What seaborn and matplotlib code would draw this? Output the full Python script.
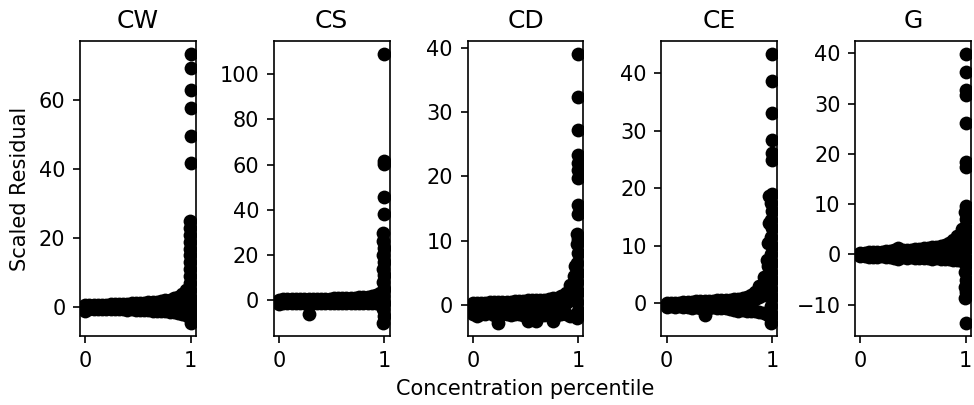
import matplotlib
matplotlib.use("Agg")
import matplotlib.pyplot as plt
import seaborn as sns
import pandas as pd

# ==========================================
# DATA
# ==========================================
panels = ["CW", "CS", "CD", "CE", "G"]

# concentration percentile positions of the main residual band
pct = [0.00, 0.04, 0.08, 0.12, 0.16, 0.20, 0.24, 0.28, 0.32, 0.36, 0.40, 0.44, 0.48,
       0.52, 0.56, 0.60, 0.64, 0.68, 0.72, 0.76, 0.80, 0.84, 0.88, 0.92, 0.96]

# upper / middle / lower edge of the band per panel
cw_hi = [0.5, 0.5, 0.6, 0.6, 0.7, 0.7, 0.8, 0.8, 0.9, 0.9, 1.0, 1.1, 1.2,
         1.3, 1.3, 1.4, 1.5, 1.6, 1.8, 2.0, 2.2, 2.6, 3.0, 3.8, 5.0]
cw_mid = [0.0, 0.1, 0.1, 0.1, 0.2, 0.2, 0.2, 0.3, 0.3, 0.3, 0.3, 0.4, 0.4,
          0.4, 0.4, 0.5, 0.5, 0.5, 0.6, 0.6, 0.6, 0.7, 0.8, 1.0, 1.2]
cw_lo = [-1.1, -0.4, -0.5, -0.4, -0.4, -0.5, -0.5, -0.6, -0.5, -0.6, -0.7, -0.6, -0.7,
         -0.8, -0.7, -0.9, -1.0, -1.1, -1.0, -1.2, -1.4, -1.5, -1.6, -1.9, -2.4]
cw_tail_x = [1.0, 0.99, 1.0, 0.99, 1.0, 0.99, 0.99, 0.99, 0.99, 0.99, 0.99, 0.99,
             0.99, 0.99, 0.99, 0.99, 0.99, 1.0, 1.0, 1.0, 1.0, 1.0, 1.0]
cw_tail_y = [-4.5, -3.0, -1.5, 0.0, 1.5, 3.0, 5.0, 7.0, 9.0, 11.0, 13.0, 15.0,
             17.0, 19.0, 21.0, 23.0, 25.0, 41.7, 49.7, 57.8, 62.9, 69.4, 73.3]

cs_hi = [0.3, 0.4, 0.4, 0.5, 0.5, 0.5, 0.6, 0.6, 0.6, 0.7, 0.7, 0.8, 0.8,
         0.9, 0.9, 1.0, 1.0, 1.1, 1.2, 1.3, 1.4, 1.6, 1.9, 2.4, 3.2]
cs_mid = [-0.5, -0.4, -0.4, -0.3, -0.3, -0.3, -0.2, -0.2, -0.2, -0.2, -0.1, -0.1, -0.1,
          0.0, 0.0, 0.0, 0.1, 0.1, 0.1, 0.2, 0.2, 0.3, 0.4, 0.6, 0.8]
cs_lo = [-1.8, -1.1, -1.3, -1.0, -1.2, -1.4, -1.2, -6.2, -1.3, -1.1, -1.2, -1.0, -1.1,
         -1.2, -1.0, -1.1, -1.2, -1.0, -1.1, -1.3, -1.2, -1.1, -1.3, -1.4, -1.6]
cs_tail_x = [0.99, 1.0, 0.99, 1.0, 0.99, 1.0, 0.99, 1.0, 0.99, 1.0, 0.99, 1.0,
             0.99, 0.99, 1.0, 1.0, 1.0, 1.0, 1.0]
cs_tail_y = [-9.9, -7.0, -4.0, -1.0, 2.0, 5.0, 8.0, 11.0, 14.0, 17.0, 20.0, 23.0,
             26.0, 29.8, 38.2, 45.7, 60.2, 61.5, 108.7]

cd_hi = [0.2, 0.3, 0.3, 0.3, 0.4, 0.4, 0.4, 0.5, 0.5, 0.5, 0.6, 0.6, 0.6,
         0.7, 0.7, 0.7, 0.8, 0.8, 0.9, 1.0, 1.1, 1.4, 1.9, 3.0, 4.5]
cd_mid = [-0.7, -0.6, -0.6, -0.6, -0.5, -0.5, -0.5, -0.5, -0.4, -0.4, -0.4, -0.4, -0.3,
          -0.3, -0.3, -0.3, -0.2, -0.2, -0.2, -0.1, 0.0, 0.1, 0.3, 0.7, 1.5]
cd_lo = [-1.5, -1.7, -1.4, -1.5, -1.3, -1.6, -2.8, -1.5, -1.4, -1.6, -1.5, -1.4, -1.6,
         -2.6, -1.7, -2.6, -1.5, -1.6, -1.4, -2.6, -1.6, -1.5, -1.4, -1.7, -1.8]
cd_tail_x = [0.95, 0.97, 0.99, 1.0, 0.99, 1.0, 0.99, 1.0, 0.99, 1.0, 0.99, 1.0, 0.99,
             1.0, 1.0, 1.0, 1.0, 1.0, 1.0, 1.0, 1.0, 1.0]
cd_tail_y = [3.0, 6.0, -2.1, -1.0, 0.5, 2.0, 3.5, 5.0, 6.5, 8.0, 9.5, 10.3, 11.0,
             14.2, 15.5, 19.7, 21.0, 22.0, 23.3, 27.2, 32.4, 39.0]

ce_hi = [0.0, 0.1, 0.1, 0.1, 0.2, 0.2, 0.2, 0.3, 0.3, 0.3, 0.4, 0.4, 0.5,
         0.5, 0.6, 0.6, 0.7, 0.8, 0.9, 1.1, 1.4, 2.0, 3.0, 4.5, 6.5]
ce_mid = [-0.3, -0.3, -0.2, -0.2, -0.2, -0.2, -0.1, -0.1, -0.1, -0.1, 0.0, 0.0, 0.0,
          0.1, 0.1, 0.1, 0.2, 0.2, 0.3, 0.4, 0.5, 0.7, 1.0, 1.5, 2.5]
ce_lo = [-0.6, -0.5, -0.6, -0.5, -0.7, -0.6, -0.8, -0.7, -0.9, -2.0, -0.8, -0.7, -0.8,
         -0.9, -0.8, -1.0, -1.1, -1.4, -1.2, -1.4, -1.3, -1.4, -1.5, -1.7, -2.0]
ce_tail_x = [0.95, 0.965, 0.97, 0.975, 0.99, 1.0, 0.99, 1.0, 0.99, 1.0, 0.99, 1.0,
             0.99, 1.0, 0.99, 1.0, 0.99, 1.0, 0.99, 1.0, 1.0, 1.0, 1.0, 1.0, 1.0, 1.0]
ce_tail_y = [7.5, 10.5, 14.0, 18.6, -3.4, -2.0, -0.5, 1.0, 2.5, 4.0, 5.5, 7.0,
             8.5, 10.0, 11.5, 13.0, 14.5, 16.0, 17.5, 19.0, 24.9, 26.1, 28.4, 33.1, 38.6, 43.3]

g_hi = [0.3, 0.3, 0.4, 0.4, 0.5, 0.5, 0.6, 0.6, 0.8, 1.3, 0.8, 0.9, 0.9,
        1.0, 1.1, 1.2, 1.3, 1.4, 1.5, 1.7, 1.9, 2.3, 2.8, 3.6, 5.0]
g_mid = [0.0, 0.0, 0.0, 0.1, 0.1, 0.1, 0.1, 0.1, 0.2, 0.2, 0.2, 0.2, 0.2,
         0.3, 0.3, 0.3, 0.3, 0.4, 0.4, 0.4, 0.5, 0.6, 0.7, 0.8, 1.0]
g_lo = [-0.3, -0.4, -0.6, -0.5, -0.6, -0.4, -0.5, -0.6, -0.7, -1.0, -0.6, -0.7, -0.6,
        -0.7, -0.8, -0.7, -0.8, -0.9, -0.8, -0.9, -1.0, -1.0, -1.1, -1.2, -1.4]
g_tail_x = [0.99, 1.0, 0.99, 1.0, 0.99, 1.0, 0.99, 1.0, 0.99, 1.0, 0.99, 1.0, 0.99,
            1.0, 1.0, 1.0, 1.0, 1.0, 1.0, 1.0, 1.0, 1.0]
g_tail_y = [-8.6, -7.5, -6.5, -5.0, -3.5, -2.0, -0.5, 1.0, 2.5, 4.0, 5.5, 7.0, 8.5,
            9.6, -13.6, 17.4, 18.4, 26.2, 31.7, 32.7, 36.3, 39.8]

# ==========================================
# LONG-FORM TABLE
# ==========================================
series = {
    "CW": (cw_hi, cw_mid, cw_lo, cw_tail_x, cw_tail_y),
    "CS": (cs_hi, cs_mid, cs_lo, cs_tail_x, cs_tail_y),
    "CD": (cd_hi, cd_mid, cd_lo, cd_tail_x, cd_tail_y),
    "CE": (ce_hi, ce_mid, ce_lo, ce_tail_x, ce_tail_y),
    "G": (g_hi, g_mid, g_lo, g_tail_x, g_tail_y),
}

rows = []
for name in panels:
    hi, mid, lo, tx, ty = series[name]
    xs = pct + pct + pct + tx
    ys = hi + mid + lo + ty
    for xv, yv in zip(xs, ys):
        rows.append({"panel": name, "percentile": xv, "residual": yv})
df = pd.DataFrame(rows)

# ==========================================
# PLOT
# ==========================================
fig, axes = plt.subplots(1, 5, figsize=(974 / 150, 405 / 150), dpi=150)
fig.subplots_adjust(left=0.0821, right=0.997, bottom=0.170, top=0.899, wspace=0.672)

for ax, name in zip(axes, panels):
    sub = df[df["panel"] == name]
    sns.scatterplot(data=sub, x="percentile", y="residual", ax=ax,
                    color="black", s=44, linewidth=0)
    ax.set_title(name, fontsize=12)
    ax.set_xticks([0, 1])
    ax.set_xlabel("")
    ax.set_ylabel("")

axes[0].set_ylabel("Scaled Residual")
axes[2].set_xlabel("Concentration percentile")

fig.savefig("out.png", dpi=150)
